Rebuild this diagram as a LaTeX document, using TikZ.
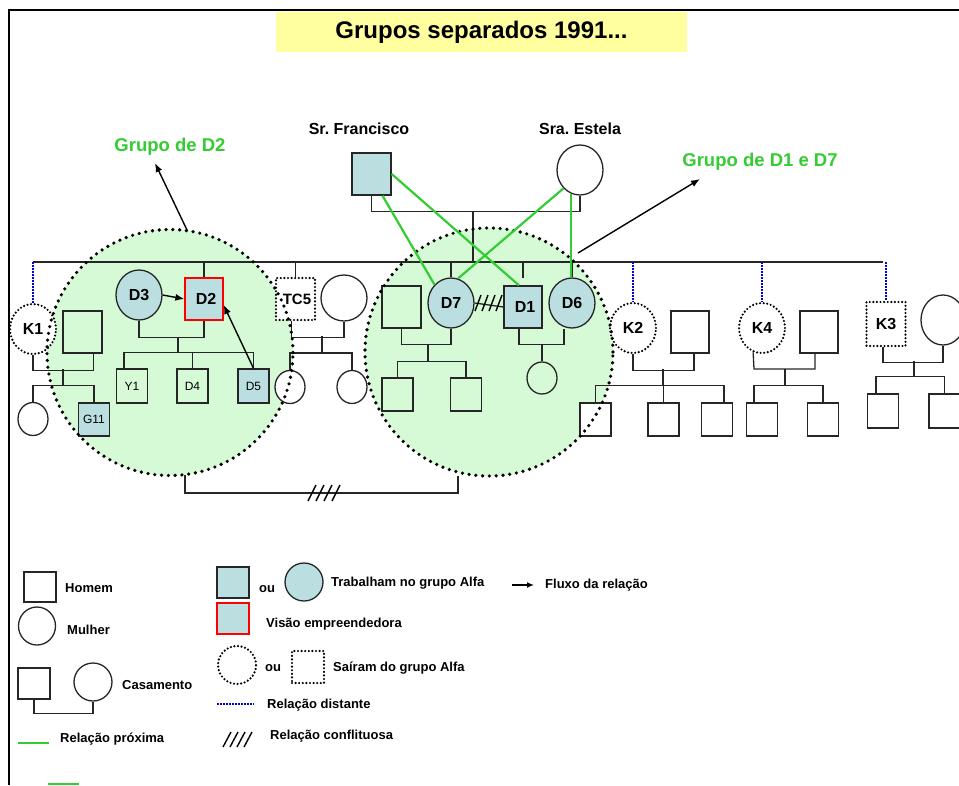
\documentclass[tikz,border=0pt]{standalone}
\usepackage{fontspec}
\setmainfont{Liberation Sans}
\usetikzlibrary{shapes.geometric,arrows.meta,calc}
\definecolor{workblue}{RGB}{187,223,224}
\definecolor{grpfill}{RGB}{214,250,214}
\definecolor{grgreen}{RGB}{51,204,51}
\definecolor{titley}{RGB}{255,255,160}
\newcommand{\fsz}[1]{\fontsize{#1}{#1}\selectfont}
\begin{document}
\begin{tikzpicture}[x=1pt,y=-1pt,
 ln/.style={line width=1.3pt, draw=black!85},
 sqb/.style={rectangle, draw=black!85, line width=1.3pt, inner sep=0pt, minimum width=39pt, minimum height=42pt},
 sqs/.style={rectangle, draw=black!85, line width=1.3pt, inner sep=0pt, minimum width=31pt, minimum height=33pt},
 cb/.style={ellipse, draw=black!85, line width=1.3pt, inner sep=0pt, minimum width=46pt, minimum height=50pt},
 cs/.style={ellipse, draw=black!85, line width=1.3pt, inner sep=0pt, minimum width=30pt, minimum height=33pt},
 work/.style={fill=workblue},
 wfill/.style={fill=white},
 sdot/.style={draw=black, dash pattern=on 0pt off 3.6pt, line cap=round, line width=2.4pt},
 bdot/.style={draw=black, dash pattern=on 0pt off 6.8pt, line cap=round, line width=3.6pt},
 bluedot/.style={draw=blue!85!black, line width=1.8pt, dash pattern=on 1.6pt off 1.4pt},
 gline/.style={draw=grgreen, line width=2.2pt},
 arr/.style={-{Latex[length=9pt,width=7pt]}, line width=1.4pt},
 nlab/.style={font=\bfseries\fsz{16}},
 slab/.style={font=\fsz{12}},
 leg/.style={font=\bfseries\fsz{13}, anchor=west, inner sep=0pt},
 glab/.style={font=\bfseries\fsz{18.5}, text=grgreen, inner sep=0pt}
]
\useasboundingbox (0,0) rectangle (959,785);
% frame and title
\draw[line width=2.2pt] (9,785) -- (9,10) -- (960,10);
\node[fill=titley, minimum width=411pt, minimum height=40pt, inner sep=0pt] (title) at (481.5,32) {\bfseries\fsz{24}Grupos separados 1991...};

% group fills
\node[circle, fill=grpfill, minimum size=246pt, inner sep=0pt] (G2) at (170,352.5) {};
\node[circle, fill=grpfill, minimum size=248pt, inner sep=0pt] (G17) at (489,352) {};

% parents
\node[sqb, work] (Fran) at (371.5,174) {};
\node[cb, wfill] (Est) at (580,170) {};
\node[font=\bfseries\fsz{16}, inner sep=0pt] (FranL) at (359,129) {Sr.\ Francisco};
\node[font=\bfseries\fsz{16}, inner sep=0pt] (EstL) at (580,129) {Sra.\ Estela};

% sibling generation
\coordinate (sib) at (0,262);
\coordinate (pdrop) at (473,211);
\node[cb, wfill, sdot, nlab] (K1) at (33,329) {K1};
\node[sqb] (K1h) at (82.5,332) {};
\node[cs, wfill] (K1c) at (33,419) {};
\node[sqs, work, slab] (G11) at (94,419.5) {G11};

\node[cb, work, nlab] (D3) at (139,295) {D3};
\node[sqb, work, draw=red, minimum width=38pt, nlab] (D2) at (204,299) {\hspace{4pt}D2};
\node[sqs, slab, minimum height=34pt] (Y1) at (132,386) {Y1};
\node[sqs, slab, minimum height=34pt] (D4) at (192.5,386) {D4};
\node[sqs, work, slab, minimum height=34pt] (D5) at (253.5,386) {D5};

\node[sqb, wfill, sdot, font=\bfseries\fsz{15}] (TC5) at (295.5,299) {\hspace{3pt}TC5};
\node[cb, wfill, minimum height=46pt] (TCw) at (344,298) {};
\node[cs, wfill] (TCc1) at (290,387) {};
\node[cs, wfill] (TCc2) at (352,387) {};

\node[sqb] (D7s) at (401.5,307) {};
\node[cb, work, nlab] (D7) at (451,303) {D7};
\node[sqb, work, minimum width=38pt, nlab] (D1) at (523,307) {\hspace{4pt}D1};
\node[cb, work, nlab] (D6) at (572,303) {D6};
\node[sqs] (D7c1) at (397.5,394.5) {};
\node[sqs] (D7c2) at (466,394.5) {};
\node[cs, minimum height=32pt] (D1c) at (542,378) {};

\node[cb, wfill, sdot, nlab] (K2) at (633,328) {K2};
\node[sqb, minimum width=38pt] (K2h) at (690,332) {};
\node[sqs, wfill] (K2c1) at (595.5,419.5) {};
\node[sqs] (K2c2) at (663.5,419.5) {};
\node[sqs] (K2c3) at (717,419.5) {};

\node[cb, wfill, sdot, nlab] (K4) at (762,328) {K4};
\node[sqb, minimum width=38pt] (K4h) at (819,332) {};
\node[sqs] (K4c1) at (762,419.5) {};
\node[sqs] (K4c2) at (823,419.5) {};

\node[sqb, wfill, sdot, minimum height=44pt, nlab] (K3) at (886,324) {K3};
\node[cb, minimum width=44pt] (K3w) at (943,320) {};
\node[sqs, minimum height=34pt] (K3c1) at (883,411) {};
\node[sqs, minimum height=34pt] (K3c2) at (944.5,411) {};

% family lines
\draw[ln] (Fran.south) -- ++(0,16) -| (Est.south);
\draw[ln] (pdrop) -- (pdrop |- sib);
\draw[ln] (33,262) -- (883,262);
\draw[bluedot] (K1.north |- sib) -- (K1.north);
\draw[ln] (D2.north |- sib) -- (D2.north);
\draw[ln] (TC5.north |- sib) -- (TC5.north);
\draw[ln] (D7.north |- sib) -- (D7.north);
\draw[ln] (D1.north |- sib) -- ++(0,16);
\draw[ln] (D6.north |- sib) -- (D6.north);
\draw[bluedot] (K2.north |- sib) -- (K2.north);
\draw[bluedot] (K4.north |- sib) -- (K4.north);
\draw[bluedot] (K3.north |- sib) -- (K3.north);

\draw[ln] (K1.south) -- ++(0,15) -| ([xshift=11pt]K1h.south);
\draw[ln] (63,369) -- (63,386);
\draw[ln] (K1c.north) -- ++(0,-16.5) -| (G11.north);

\draw[ln] (D3.south) -- ++(0,17) -| (D2.south);
\draw[ln] (178,337) -- (178,353);
\draw[ln] ([xshift=-8pt]Y1.north) -- ++(0,-16) -| (D5.north);
\draw[ln] (D4.north) -- ++(0,-16);

\draw[ln] ([xshift=-4pt]TC5.south) -- ++(0,16) -| (TCw.south);
\draw[ln] (322,336) -- (322,353);
\draw[ln] (TCc1.north) -- ++(0,-17) -| (TCc2.north);

\draw[ln] (D7s.south) -- ++(0,16) -| (D7.south);
\draw[ln] (428,344) -- (428,362);
\draw[ln] (D7c1.north) -- ++(0,-16) -| (D7c2.north);
\draw[ln] ([xshift=-4pt]D1.south) -- ++(0,16) -| ([xshift=-8pt]D6.south);
\draw[ln] (542,344) -- (D1c.north);

\draw[ln] (K2.south) -- ++(0,16) -| ([xshift=4pt]K2h.south);
\draw[ln] (663,369) -- (663,386);
\draw[ln] (K2c1.north) -- ++(0,-17) -| ([xshift=7pt]K2c3.north);
\draw[ln] (K2c2.north) -- ++(0,-17);

\draw[ln] (K4.250) -- (754,369) -| ([xshift=-4pt]K4h.south);
\draw[ln] (785,369) -- (785,386);
\draw[ln] ([xshift=-8pt]K4c1.north) -- ++(0,-17) -| (K4c2.north);

\draw[ln] ([xshift=-3pt]K3.south) -- ++(0,15) -| (K3w.south);
\draw[ln] (914,361) -- (914,377);
\draw[ln] ([xshift=-7pt]K3c1.north) -- ++(0,-17) -| (K3c2.north);

% group outlines
\draw[bdot] (G2.center) circle[radius=123pt];
\draw[bdot] (G17.center) circle[radius=124pt];

% conflict between groups
\draw[ln] (185,475) -- (185,493) -- (458,493) -- (458,476);
\foreach \x in {312,320,328,336} \draw[line width=1.4pt] (\x-4,501) -- (\x+4,485);

% conflict D7 - D1
\draw[ln] (D7.east) -- (D1.west);
\foreach \x in {478,485,492,499} \draw[line width=1.4pt] (\x-3,311) -- (\x+3,295);

% close relations (green)
\draw[gline] (Fran.east) -- ([xshift=-4pt]D1.north);
\draw[gline] ([xshift=11pt]Fran.south) -- (D7.132);
\draw[gline] (Est.228) -- (D7.74);
\draw[gline] (Est.250) -- (Est.250 |- D6.north);

% flow arrows
\draw[arr] (D3.east) -- (D2.west);
\draw[arr] (D5.north) -- ([yshift=-6pt]D2.east);

% group labels
\node[glab] (GD2) at (170,147) {Grupo de D2};
\node[glab] (GD17) at (760,162) {Grupo de D1 e D7};
\coordinate (a2s) at (187,230);
\coordinate (a2e) at (155,163);
\draw[arr] (a2s) -- (a2e);
\coordinate (a17s) at (578,253);
\coordinate (a17e) at (700,179);
\draw[arr] (a17s) -- (a17e);

% legend
\node[rectangle, draw=black!85, line width=1.3pt, minimum width=32pt, minimum height=30pt, inner sep=0pt] (lgH) at (40,587) {};
\node[leg] (lgHt) at (65,588) {Homem};
\node[ellipse, draw=black!85, line width=1.3pt, minimum width=37pt, minimum height=38pt, inner sep=0pt] (lgM) at (37,626) {};
\node[leg] (lgMt) at (67,630) {Mulher};
\node[rectangle, draw=black!85, line width=1.3pt, minimum width=32pt, minimum height=31pt, inner sep=0pt] (lgCs) at (34,683.5) {};
\node[ellipse, draw=black!85, line width=1.3pt, minimum width=38pt, minimum height=38pt, inner sep=0pt] (lgCc) at (93,682) {};
\draw[ln] (lgCs.south) -- ++(0,14) -| (lgCc.south);
\node[leg] (lgCt) at (122,685) {Casamento};
\coordinate (lgG1) at (18,743);
\coordinate (lgG2) at (49,743);
\draw[gline] (lgG1) -- (lgG2);
\node[leg] (lgGt) at (60,739) {Relação próxima};
\coordinate (lgS1) at (48,784);
\coordinate (lgS2) at (79,784);
\draw[gline] (lgS1) -- (lgS2);

\node[rectangle, draw=black!85, line width=1.3pt, fill=workblue, minimum width=32pt, minimum height=31pt, inner sep=0pt] (lgW1) at (233,582.5) {};
\node[leg] (lgOu1) at (259,589) {ou};
\node[ellipse, draw=black!85, line width=1.3pt, fill=workblue, minimum width=38pt, minimum height=38pt, inner sep=0pt] (lgW2) at (304,582) {};
\node[leg] (lgWt) at (331,583) {Trabalham no grupo Alfa};
\node[rectangle, draw=red, line width=1.6pt, fill=workblue, minimum width=32pt, minimum height=31pt, inner sep=0pt] (lgR) at (233,618.5) {};
\node[leg] (lgRt) at (266,624) {Visão empreendedora};
\node[ellipse, sdot, minimum width=38pt, minimum height=38pt, inner sep=0pt] (lgD1) at (237,665) {};
\node[leg] (lgOu2) at (265,668) {ou};
\node[rectangle, sdot, minimum width=32pt, minimum height=32pt, inner sep=0pt] (lgD2) at (308,667) {};
\node[leg] (lgDt) at (333,668) {Saíram do grupo Alfa};
\coordinate (lgB1) at (217,704);
\coordinate (lgB2) at (254,704);
\draw[bluedot] (lgB1) -- (lgB2);
\node[leg] (lgBt) at (267,705) {Relação distante};
\foreach \x in {223,230,237,244} \draw[line width=1.4pt] (\x,747) -- (\x+8,732);
\node[leg] (lgXt) at (270,736) {Relação conflituosa};
\coordinate (lgF1) at (512,585);
\coordinate (lgF2) at (534,585);
\draw[-{Latex[length=7pt,width=6pt]}, line width=1.4pt] (lgF1) -- (lgF2);
\node[leg] (lgFt) at (545,585) {Fluxo da relação};
\end{tikzpicture}
\end{document}
